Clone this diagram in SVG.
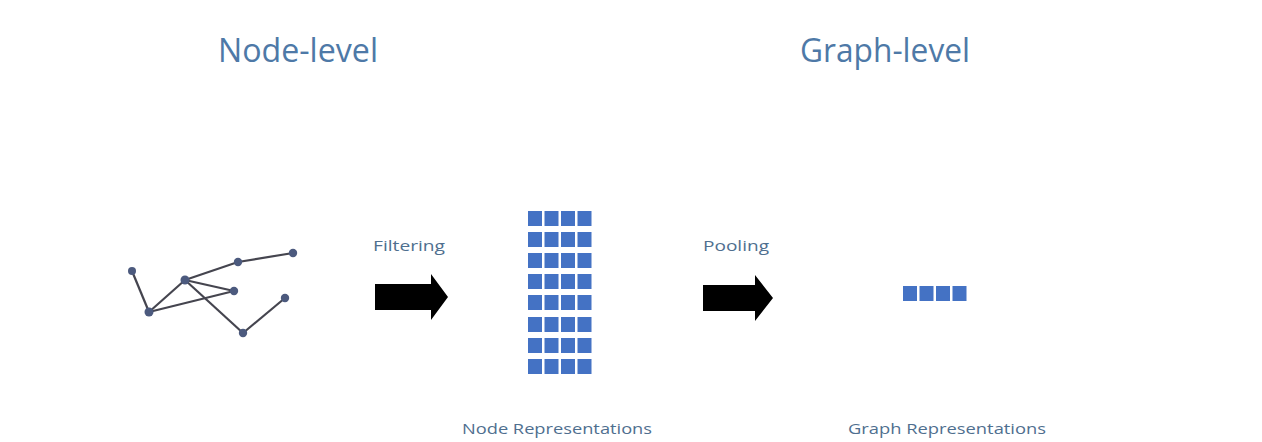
<svg xmlns="http://www.w3.org/2000/svg" width="1262" height="442" viewBox="0 0 1262 442">
<style>
.title{font-family:"Open Sans","Noto Sans",sans-serif;font-size:33px;fill:#4E79A7}
.lbl{font-family:"Open Sans","Noto Sans",sans-serif;font-size:14.5px;fill:#4F6F8F}
.edge{stroke:#45454f;stroke-width:2.2;fill:none}
.dot{fill:#4C5A7E}
.cell{fill:#4472C4}
.arrow{fill:#000}
</style>
<defs>
<rect id="c" class="cell" width="14" height="15"/>
<g id="row"><use href="#c" x="0"/><use href="#c" x="16.5"/><use href="#c" x="33"/><use href="#c" x="49.5"/></g>
</defs>
<rect width="1262" height="442" fill="#fff"/>
<g id="title-node"><text class="title" x="218" y="62" textLength="160" lengthAdjust="spacingAndGlyphs">Node-level</text></g>
<g id="title-graph"><text class="title" x="800" y="62" textLength="170" lengthAdjust="spacingAndGlyphs">Graph-level</text></g>
<g id="graph">
<g id="connectors">
<line class="edge" x1="132" y1="271" x2="149" y2="312"/>
<line class="edge" x1="149" y1="312" x2="185" y2="280"/>
<line class="edge" x1="149" y1="312" x2="234" y2="291"/>
<line class="edge" x1="185" y1="280" x2="238" y2="262"/>
<line class="edge" x1="238" y1="262" x2="293" y2="253"/>
<line class="edge" x1="185" y1="280" x2="234" y2="291"/>
<line class="edge" x1="185" y1="280" x2="243" y2="333"/>
<line class="edge" x1="243" y1="333" x2="285" y2="298"/>
</g>
<g id="n1"><circle class="dot" cx="132" cy="271" r="4"/></g>
<g id="n2"><circle class="dot" cx="149" cy="312" r="4.5"/></g>
<g id="n3"><circle class="dot" cx="185" cy="280" r="4.5"/></g>
<g id="n4"><circle class="dot" cx="238" cy="262" r="4.2"/></g>
<g id="n5"><circle class="dot" cx="293" cy="253" r="4.2"/></g>
<g id="n6"><circle class="dot" cx="234" cy="291" r="4.2"/></g>
<g id="n7"><circle class="dot" cx="285" cy="298" r="4.2"/></g>
<g id="n8"><circle class="dot" cx="243" cy="333" r="4.2"/></g>
</g>
<g id="filtering">
<text class="lbl" x="373" y="251" textLength="72" lengthAdjust="spacingAndGlyphs">Filtering</text>
<polygon class="arrow" points="375,284 431,284 431,274 448,297 431,320 431,310 375,310"/>
</g>
<g id="node-reps">
<use href="#row" x="528" y="211"/>
<use href="#row" x="528" y="232"/>
<use href="#row" x="528" y="253"/>
<use href="#row" x="528" y="274"/>
<use href="#row" x="528" y="295"/>
<use href="#row" x="528" y="317"/>
<use href="#row" x="528" y="338"/>
<use href="#row" x="528" y="359"/>
<text class="lbl" x="462" y="434" textLength="190" lengthAdjust="spacingAndGlyphs">Node Representations</text>
</g>
<g id="pooling">
<text class="lbl" x="703" y="251" textLength="66" lengthAdjust="spacingAndGlyphs">Pooling</text>
<polygon class="arrow" points="703,285 755,285 755,275 773,298 755,321 755,311 703,311"/>
</g>
<g id="graph-reps">
<use href="#row" x="903" y="286"/>
<text class="lbl" x="848" y="434" textLength="198" lengthAdjust="spacingAndGlyphs">Graph Representations</text>
</g>
</svg>
